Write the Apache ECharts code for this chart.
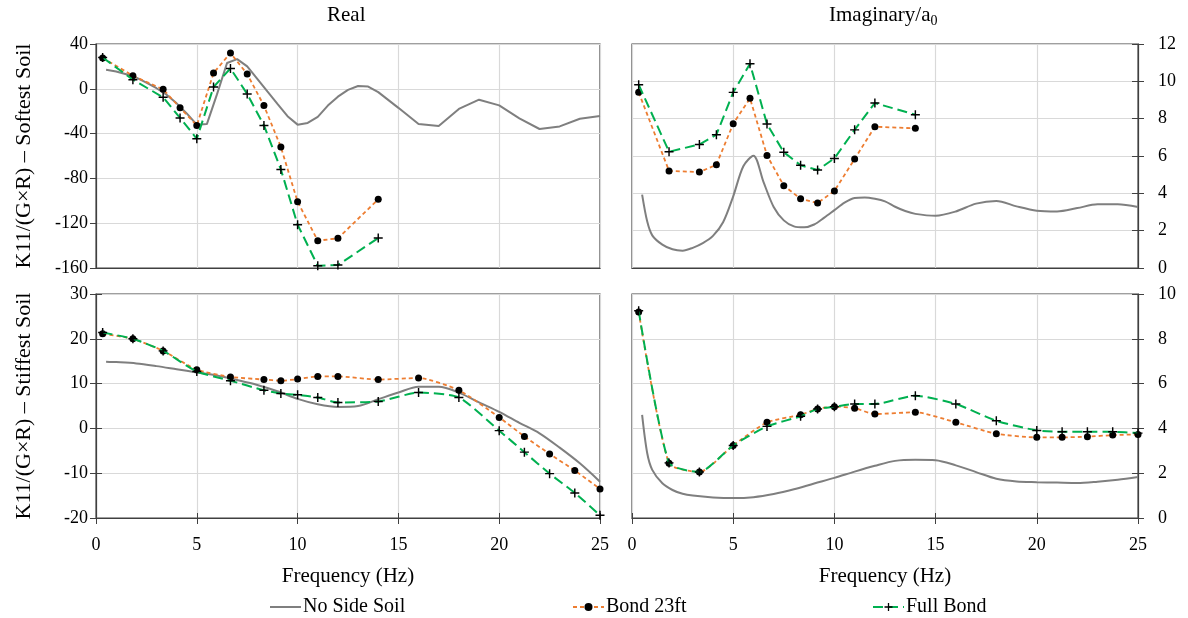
<!DOCTYPE html>
<html>
<head>
<meta charset="utf-8">
<script src="https://cdn.jsdelivr.net/npm/echarts@6/dist/echarts.min.js"></script>
<style>
  html, body { margin: 0; padding: 0; background: #fff; }
  #chart { width: 1188px; height: 618px; }
</style>
</head>
<body>
<div id="chart"></div>
<script>
// frequencies (Hz) of the bonded cases
const freqTop = [0.33, 1.83, 3.33, 4.17, 5, 5.83, 6.67, 7.5, 8.33, 9.17, 10, 11, 12, 14];
const freqBottom = [0.33, 1.83, 3.33, 5, 6.67, 8.33, 9.17, 10, 11, 12, 14, 16, 18, 20, 21.25, 22.5, 23.75, 25];

// softest soil - real
const realSoftBond = [27.5, 11.7, -0.5, -17, -32.7, 14.1, 32, 13.2, -15, -52, -100.8, -135.6, -133.5, -98.7];
const realSoftFull = [28, 8.1, -7.6, -26, -44.6, 1.6, 18.2, -4.6, -32.7, -72, -121.3, -158, -157.4, -133.2];
const realSoftNoneFreq = [0.5, 1, 1.5, 2, 2.5, 3, 3.5, 4, 4.5, 5, 5.5, 6, 6.5, 7, 7.5, 8, 8.5, 9, 9.5, 10, 10.5, 11, 11.5, 12, 12.5, 13, 13.5, 14, 15, 16, 17, 18, 19, 20, 21, 22, 23, 24, 25];
const realSoftNone = [17, 15.5, 13, 10, 5.5, 0.5, -5.3, -13, -22, -32, -31.5, -5, 23, 26.5, 20, 8.9, -2.4, -13.5, -24.5, -32, -30.5, -25, -15, -7, -1, 2.5, 2, -3, -17, -31.4, -33.2, -18, -9.7, -14.8, -26.4, -35.9, -33.6, -26.7, -24.3];

// softest soil - imaginary / a0
const imagSoftBond = [9.41, 5.2, 5.14, 5.53, 7.73, 9.09, 6.03, 4.41, 3.71, 3.48, 4.13, 5.84, 7.57, 7.48];
const imagSoftFull = [9.82, 6.23, 6.62, 7.14, 9.41, 10.94, 7.71, 6.2, 5.5, 5.25, 5.87, 7.4, 8.84, 8.21];
const imagSoftNoneFreq = [0.5, 0.75, 1, 1.5, 2, 2.5, 3, 3.5, 4, 4.5, 5, 5.5, 6, 6.5, 7, 7.5, 8, 8.5, 9, 9.5, 10, 10.5, 11, 11.5, 12, 12.5, 13, 13.5, 14, 15, 16, 17, 18, 19, 20, 21, 22, 23, 24, 25];
const imagSoftNone = [3.93, 2.5, 1.75, 1.25, 1.0, 0.93, 1.08, 1.33, 1.72, 2.45, 3.84, 5.45, 6.02, 4.6, 3.27, 2.55, 2.23, 2.18, 2.33, 2.7, 3.1, 3.5, 3.75, 3.78, 3.71, 3.57, 3.28, 3.05, 2.9, 2.8, 3.03, 3.45, 3.59, 3.3, 3.07, 3.03, 3.21, 3.41, 3.41, 3.27];

// stiffest soil - real
const realStiffBond = [21.1, 20, 17.3, 13.1, 11.5, 10.9, 10.65, 11.0, 11.6, 11.6, 10.9, 11.25, 8.5, 2.46, -1.8, -5.7, -9.4, -13.5];
const realStiffFull = [21.4, 20, 17.3, 12.7, 10.65, 8.5, 7.8, 7.5, 6.9, 5.8, 6.0, 8.0, 6.9, -0.5, -5.3, -10.1, -14.4, -19.4];
const realStiffNoneFreq = [0.5, 1, 2, 3, 4, 5, 6, 7, 8, 9, 10, 11, 12, 13, 14, 15, 16, 17, 18, 19, 20, 21, 22, 23, 24, 25];
const realStiffNone = [14.9, 14.8, 14.5, 13.9, 13.2, 12.5, 11.8, 10.8, 9.7, 8.3, 6.6, 5.4, 4.8, 5.0, 6.5, 8.0, 9.3, 9.3, 8.0, 5.8, 3.7, 1.25, -1.1, -4.3, -7.8, -11.9];

// stiffest soil - imaginary / a0
const imagStiffBond = [9.2, 2.44, 2.05, 3.24, 4.27, 4.61, 4.87, 4.97, 4.9, 4.64, 4.72, 4.27, 3.76, 3.6, 3.6, 3.63, 3.7, 3.73];
const imagStiffFull = [9.25, 2.46, 2.05, 3.24, 4.09, 4.54, 4.87, 4.97, 5.09, 5.09, 5.46, 5.09, 4.34, 3.91, 3.85, 3.85, 3.85, 3.79];
const imagStiffNoneFreq = [0.5, 0.75, 1, 1.5, 2, 2.5, 3, 4, 5, 6, 7, 8, 9, 10, 11, 12, 13, 14, 15, 16, 17, 18, 19, 20, 21, 22, 23, 24, 25];
const imagStiffNone = [4.6, 2.9, 2.15, 1.55, 1.25, 1.08, 1.0, 0.92, 0.89, 0.93, 1.07, 1.28, 1.54, 1.79, 2.07, 2.33, 2.55, 2.6, 2.58, 2.35, 2.05, 1.75, 1.63, 1.6, 1.58, 1.56, 1.62, 1.71, 1.83];

const FONT = "Liberation Serif";
const AXIS = "#404040";
const PLUS = "path://M4.2,0H5.8V4.2H10V5.8H5.8V10H4.2V5.8H0V4.2H4.2Z";

function zip(xs, ys) {
  return xs.map((x, i) => [x, ys[i]]);
}

function noneSeries(idx, xs, ys, smooth) {
  return {
    name: "No Side Soil", type: "line", xAxisIndex: idx, yAxisIndex: idx,
    data: zip(xs, ys), showSymbol: false, symbol: "none", smooth: smooth,
    lineStyle: { color: "#7f7f7f", width: 2 }, itemStyle: { color: "#7f7f7f" },
    z: 2
  };
}
function bondSeries(idx, xs, ys, smooth) {
  return {
    name: "Bond 23ft", type: "line", xAxisIndex: idx, yAxisIndex: idx,
    data: zip(xs, ys), symbol: "circle", symbolSize: 7, smooth: smooth,
    lineStyle: { color: "#ed7d31", width: 1.8, type: [4, 3] },
    itemStyle: { color: "#000" }, z: 3
  };
}
function fullSeries(idx, xs, ys, smooth) {
  return {
    name: "Full Bond", type: "line", xAxisIndex: idx, yAxisIndex: idx,
    data: zip(xs, ys), symbol: PLUS, symbolSize: 9, smooth: smooth,
    lineStyle: { color: "#00b050", width: 2, type: [10, 5] },
    itemStyle: { color: "#000" }, z: 4
  };
}

const grids = [
  { left: 96, top: 44, width: 504, height: 224 },
  { left: 632, top: 44, width: 506, height: 224 },
  { left: 96, top: 294, width: 504, height: 224 },
  { left: 632, top: 294, width: 506, height: 224 }
].map(g => Object.assign(g, { show: true, borderColor: AXIS, borderWidth: 1.2, containLabel: false }));

function xAxis(idx, bottom) {
  return {
    type: "value", gridIndex: idx, min: 0, max: 25, interval: 5,
    name: bottom ? "Frequency (Hz)" : "", nameLocation: "middle", nameGap: 48,
    nameTextStyle: { fontFamily: FONT, fontSize: 21, color: "#000" },
    axisLine: { show: true, onZero: false, lineStyle: { color: AXIS, width: 1.2 } },
    axisTick: { show: bottom, length: 6, lineStyle: { color: AXIS } },
    axisLabel: { show: bottom, fontFamily: FONT, fontSize: 18, color: "#000", margin: 18 },
    splitLine: { show: true, lineStyle: { color: "#d9d9d9", width: 1.2 } }
  };
}
// second x axis on the bottom panels, only for the inner half of the crossing ticks
function xTickInner(idx) {
  return {
    type: "value", gridIndex: idx, min: 0, max: 25, interval: 5, position: "bottom",
    axisLine: { show: false, onZero: false },
    axisTick: { show: true, inside: true, length: 5, lineStyle: { color: AXIS } },
    axisLabel: { show: false }, splitLine: { show: false }
  };
}
function yAxis(idx, min, max, step, right, name) {
  return {
    type: "value", gridIndex: idx, min: min, max: max, interval: step,
    position: right ? "right" : "left",
    name: name || "", nameLocation: "middle", nameRotate: 90, nameGap: 61,
    nameTextStyle: { fontFamily: FONT, fontSize: 22, color: "#000" },
    axisLine: { show: true, onZero: false, lineStyle: { color: AXIS, width: 1.2 } },
    axisTick: { show: true, length: 6, lineStyle: { color: AXIS } },
    axisLabel: { fontFamily: FONT, fontSize: 18, color: "#000", margin: right ? 20 : 8 },
    splitLine: { show: true, lineStyle: { color: "#d9d9d9", width: 1.2 } }
  };
}
function yTickInner(idx, min, max, step, right) {
  return {
    type: "value", gridIndex: idx, min: min, max: max, interval: step,
    position: right ? "right" : "left",
    axisLine: { show: false, onZero: false },
    axisTick: { show: true, inside: true, length: 6, lineStyle: { color: AXIS } },
    axisLabel: { show: false }, splitLine: { show: false }
  };
}

function legendAt(name, left, plain) {
  const item = plain ? { name: name, itemStyle: { opacity: 0 } } : { name: name };
  return {
    data: [item], left: left, top: 592, itemWidth: 31, itemHeight: 10, itemGap: 0,
    textStyle: { fontFamily: FONT, fontSize: 20, color: "#000", padding: [0, 0, 0, -3] },
    selectedMode: false
  };
}

const chart = echarts.init(document.getElementById("chart"));
chart.setOption({
  animation: false,
  backgroundColor: "#fff",
  grid: grids,
  xAxis: [xAxis(0, false), xAxis(1, false), xAxis(2, true), xAxis(3, true), xTickInner(2), xTickInner(3)],
  yAxis: [
    yAxis(0, -160, 40, 40, false, "K11/(G×R) – Softest Soil"),
    yAxis(1, 0, 12, 2, true),
    yAxis(2, -20, 30, 10, false, "K11/(G×R) – Stiffest Soil"),
    yAxis(3, 0, 10, 2, true),
    yTickInner(2, -20, 30, 10, false),
    yTickInner(1, 0, 12, 2, true),
    yTickInner(3, 0, 10, 2, true)
  ],
  legend: [legendAt("No Side Soil", 264, true), legendAt("Bond 23ft", 567), legendAt("Full Bond", 867)],
  graphic: [
    {
      type: "text", left: 327, top: 5,
      style: { text: "Real", font: "21px " + FONT, fill: "#000" }
    },
    {
      type: "text", left: 829, top: 5,
      style: {
        text: "Imaginary/a{sub|0}", font: "21px " + FONT, fill: "#000",
        rich: { sub: { fontFamily: FONT, fontSize: 14, padding: [12, 0, 0, 0] } }
      }
    }
  ],
  series: [
    noneSeries(0, realSoftNoneFreq, realSoftNone, false),
    bondSeries(0, freqTop, realSoftBond, false),
    fullSeries(0, freqTop, realSoftFull, false),
    noneSeries(1, imagSoftNoneFreq, imagSoftNone, 0.3),
    bondSeries(1, freqTop, imagSoftBond, false),
    fullSeries(1, freqTop, imagSoftFull, false),
    noneSeries(2, realStiffNoneFreq, realStiffNone, 0.3),
    bondSeries(2, freqBottom, realStiffBond, 0.2),
    fullSeries(2, freqBottom, realStiffFull, 0.2),
    noneSeries(3, imagStiffNoneFreq, imagStiffNone, 0.3),
    bondSeries(3, freqBottom, imagStiffBond, 0.2),
    fullSeries(3, freqBottom, imagStiffFull, 0.2)
  ]
});
</script>
</body>
</html>
